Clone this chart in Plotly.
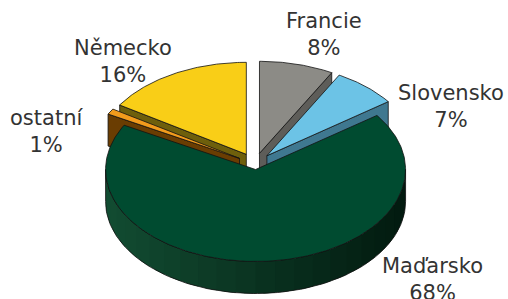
import numpy as np
import plotly.graph_objects as go

# ---- data ----
countries = ["Francie", "Slovensko", "Maďarsko", "ostatní", "Německo"]
shares = [8, 7, 68, 1, 16]
top_colors = ["#8C8B86", "#6CC3E6", "#004B30", "#F29B1C", "#F9CE17"]
wall_colors = ["#5E5D59", "#3F7890", "#06402A", "#6A3D02", "#6E5F0C"]
explode = [0.12, 0.12, 0.06, 0.12, 0.12]

# label positions (pixel space) for each category
label_x = [324, 451, 432, 46, 123]
label_y = [34, 106, 279, 131, 61]

# ---- 3D pie geometry ----
CX, CY, A, B, DEPTH = 255, 164, 150, 92, 32
W, H = 508, 299


def proj(u, v, down=0.0):
    return CX + A * np.asarray(u), CY - B * np.asarray(v) + down


total = sum(shares)
bounds = np.concatenate([[0], np.cumsum(shares)]) / total * 360.0

fig = go.Figure()


def poly(xs, ys, fill, line_color="#111111", lw=0.8):
    fig.add_trace(go.Scatter(
        x=list(xs) + [xs[0]], y=list(ys) + [ys[0]], mode="lines",
        fill="toself", fillcolor=fill,
        line=dict(color=line_color, width=lw),
        hoverinfo="skip", showlegend=False))


def outline(xs, ys, lw=0.8):
    fig.add_trace(go.Scatter(
        x=list(xs) + [xs[0]], y=list(ys) + [ys[0]], mode="lines",
        line=dict(color="#111111", width=lw),
        hoverinfo="skip", showlegend=False))


def mix(c1, c2, t):
    return "rgb(%d,%d,%d)" % tuple(round(a + (b - a) * t) for a, b in zip(c1, c2))


slices = []
for i in range(len(shares)):
    t1, t2 = bounds[i], bounds[i + 1]
    m = np.radians((t1 + t2) / 2)
    ou, ov = explode[i] * np.sin(m), explode[i] * np.cos(m)
    slices.append((i, t1, t2, ou, ov))

# back to front
order = sorted(slices, key=lambda s: -np.cos(np.radians((s[1] + s[2]) / 2)))

for i, t1, t2, ou, ov in order:
    # radial walls (only the ones facing the viewer)
    for ang, nrm in ((t1, t1 - 90), (t2, t2 + 90)):
        if np.cos(np.radians(nrm)) < 0:
            a = np.radians(ang)
            pu = [ou, ou + np.sin(a), ou + np.sin(a), ou]
            pv = [ov, ov + np.cos(a), ov + np.cos(a), ov]
            xs, ys = proj(pu, pv)
            ys = ys + np.array([0, 0, DEPTH, DEPTH])
            poly(xs, ys, wall_colors[i])
    # outer curved wall (front half only)
    lo, hi = max(t1, 90), min(t2, 270)
    if hi > lo:
        if countries[i] == "Maďarsko":
            n = 24
            step = (hi - lo) / n
            for k in range(n):
                a0 = lo + k * step
                a1 = min(hi, a0 + step * 1.6)
                th = np.radians(np.linspace(a0, a1, 6))
                xs, ys = proj(ou + np.sin(th), ov + np.cos(th))
                sx = np.concatenate([xs, xs[::-1]])
                sy = np.concatenate([ys, ys[::-1] + DEPTH])
                tt = (1 - np.sin(np.radians(a0 + step / 2))) / 2
                col = mix((2, 26, 15), (18, 76, 50), tt)
                poly(sx, sy, col, line_color=col, lw=0)
            th = np.radians(np.linspace(lo, hi, 120))
            xs, ys = proj(ou + np.sin(th), ov + np.cos(th))
            outline(np.concatenate([xs, xs[::-1]]),
                    np.concatenate([ys, ys[::-1] + DEPTH]))
        else:
            th = np.radians(np.linspace(lo, hi, 60))
            xs, ys = proj(ou + np.sin(th), ov + np.cos(th))
            poly(np.concatenate([xs, xs[::-1]]),
                 np.concatenate([ys, ys[::-1] + DEPTH]), wall_colors[i])
    # top face
    th = np.radians(np.linspace(t1, t2, max(8, int((t2 - t1) * 1.5))))
    pu = np.concatenate([[ou], ou + np.sin(th)])
    pv = np.concatenate([[ov], ov + np.cos(th)])
    xs, ys = proj(pu, pv)
    poly(xs, ys, top_colors[i])

for c, s, lx, ly in zip(countries, shares, label_x, label_y):
    fig.add_annotation(x=lx, y=ly, xref="x", yref="y", showarrow=False,
                       text=f"{c}<br>{s}%", align="center",
                       xanchor="center", yanchor="middle",
                       font=dict(family="DejaVu Sans", size=21, color="#333333"))

fig.update_layout(
    width=W, height=H, autosize=False,
    margin=dict(l=0, r=0, t=0, b=0),
    paper_bgcolor="white", plot_bgcolor="white",
    xaxis=dict(range=[0, W], visible=False, fixedrange=True),
    yaxis=dict(range=[H, 0], visible=False, fixedrange=True),
    showlegend=False,
)

fig.write_html("out.html", config={"displayModeBar": False},
               post_script="document.body.style.margin='0';document.body.style.overflow='hidden';")
